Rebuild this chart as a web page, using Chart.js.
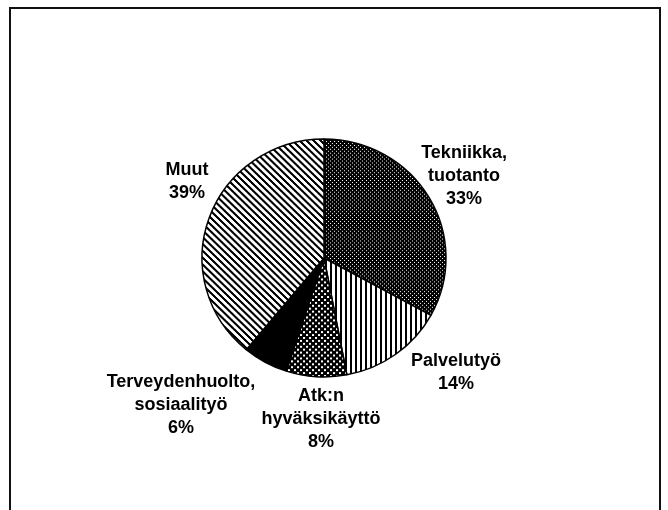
<!DOCTYPE html>
<html>
<head>
<meta charset="utf-8">
<script src="https://cdn.jsdelivr.net/npm/chart.js@4/dist/chart.umd.min.js"></script>
<style>
  html, body { margin: 0; padding: 0; background: #ffffff; }
  #wrap { width: 668px; height: 510px; position: relative; }
</style>
</head>
<body>
<div id="wrap"><canvas id="c" width="668" height="510"></canvas></div>
<script>
// ---- data ----
const categories = [
  ["Tekniikka,", "tuotanto"],
  ["Palvelutyö"],
  ["Atk:n", "hyväksikäyttö"],
  ["Terveydenhuolto,", "sosiaalityö"],
  ["Muut"]
];
const shares = [33, 14, 8, 6, 39];

// ---- label placement (relative to pie centre, in radius units) ----
const labelOffsets = [
  [1.148, -0.668],
  [1.082, 0.939],
  [-0.025, 1.324],
  [-1.172, 1.205],
  [-1.123, -0.627]
];

// ---- hatch patterns ----
function makeTile(w, h, painter) {
  const cv = document.createElement('canvas');
  cv.width = w; cv.height = h;
  const g = cv.getContext('2d');
  painter(g, w, h);
  return document.getElementById('c').getContext('2d').createPattern(cv, 'repeat');
}
const patDenseDots = makeTile(4, 4, (g) => {
  g.fillStyle = '#000'; g.fillRect(0, 0, 4, 4);
  g.fillStyle = '#fff'; g.fillRect(0, 0, 1, 1); g.fillRect(2, 2, 1, 1);
});
const patVertical = makeTile(5, 1, (g) => {
  g.fillStyle = '#fff'; g.fillRect(0, 0, 5, 1);
  g.fillStyle = '#000'; g.fillRect(0, 0, 2, 1);
});
const patSparseDots = makeTile(6, 6, (g) => {
  g.fillStyle = '#000'; g.fillRect(0, 0, 6, 6);
  g.fillStyle = '#fff'; g.fillRect(0, 0, 2, 2); g.fillRect(3, 3, 2, 2);
});
const patDiagonal = makeTile(7, 7, (g) => {
  g.fillStyle = '#fff'; g.fillRect(0, 0, 7, 7);
  g.fillStyle = '#000';
  for (let y = 0; y < 7; y++) for (let x = 0; x < 7; x++) {
    const d = ((x - y) % 7 + 7) % 7;
    if (d <= 2) g.fillRect(x, y, 1, 1);
  }
});
const fills = [patDenseDots, patVertical, patSparseDots, '#000000', patDiagonal];

const ELLIPSE_Y = 0.975;

const framePlugin = {
  id: 'frame',
  beforeDraw(chart) {
    const ctx = chart.ctx;
    ctx.save();
    ctx.fillStyle = '#fff';
    ctx.fillRect(0, 0, chart.width, chart.height);
    ctx.strokeStyle = '#111';
    ctx.lineWidth = 2;
    ctx.beginPath();
    ctx.moveTo(10, chart.height);
    ctx.lineTo(10, 8);
    ctx.lineTo(660, 8);
    ctx.lineTo(660, chart.height);
    ctx.stroke();
    ctx.restore();
  }
};

const ellipsePlugin = {
  id: 'ellipse',
  beforeDatasetsDraw(chart) {
    const a = chart.getDatasetMeta(0).data[0];
    const ctx = chart.ctx;
    ctx.save();
    ctx.translate(a.x, a.y);
    ctx.scale(1, ELLIPSE_Y);
    ctx.translate(-a.x, -a.y);
  },
  afterDatasetsDraw(chart) {
    chart.ctx.restore();
    const ctx = chart.ctx;
    const meta = chart.getDatasetMeta(0);
    ctx.save();
    ctx.fillStyle = '#000';
    ctx.font = 'bold 18px "Liberation Sans", Arial, sans-serif';
    ctx.textAlign = 'center';
    ctx.textBaseline = 'middle';
    const lh = 23;
    meta.data.forEach((arc, i) => {
      const r = arc.outerRadius;
      const cx = arc.x + labelOffsets[i][0] * r;
      const cy = arc.y + labelOffsets[i][1] * r;
      const lines = categories[i].concat([shares[i] + '%']);
      const top = cy - (lines.length - 1) * lh / 2;
      lines.forEach((t, k) => ctx.fillText(t, cx, top + k * lh));
    });
    ctx.restore();
  }
};

new Chart(document.getElementById('c'), {
  type: 'pie',
  data: {
    labels: categories.map(c => c.join(' ')),
    datasets: [{
      data: shares,
      backgroundColor: fills,
      borderColor: '#000',
      borderWidth: 1.5
    }]
  },
  options: {
    responsive: false,
    animation: false,
    layout: { padding: { left: 201.25, right: 221.25, top: 135.25, bottom: 129.25 } },
    plugins: {
      legend: { display: false },
      tooltip: { enabled: false }
    }
  },
  plugins: [framePlugin, ellipsePlugin]
});
</script>
</body>
</html>
